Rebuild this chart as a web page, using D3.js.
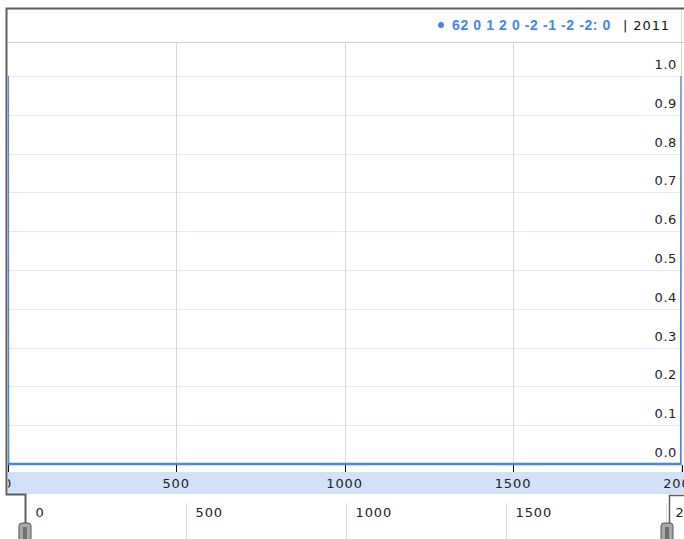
<!DOCTYPE html>
<html>
<head>
<meta charset="utf-8">
<script src="https://cdn.jsdelivr.net/npm/d3@7.9.0/dist/d3.min.js"></script>
<style>
  body { margin: 0; background: #fff; }
  text { font-family: "DejaVu Sans", Verdana, sans-serif; }
  text.legend-name { font-family: "Liberation Sans", Arial, sans-serif; font-weight: bold; }
</style>
</head>
<body>
<svg id="chart" width="684" height="539"></svg>
<script>
// series data
const seriesName = '62 0 1 2 0 -2 -1 -2 -2';
const xValues = [0, 1, 1999, 2000];
const yValues = [1, 0, 0, 1];
const legendValue = 0;
const legendDate = '2011';

const xTicks = [0, 500, 1000, 1500, 2000];
const yTicks = [0, 0.1, 0.2, 0.3, 0.4, 0.5, 0.6, 0.7, 0.8, 0.9, 1.0];

const svg = d3.select('#chart');

let x = d3.scaleLinear().domain([0, 2000]).range([7.7, 681.5]);
let y = d3.scaleLinear().domain([0, 1]).range([464, 76]);
let xr = d3.scaleLinear().domain([0, 2000]).range([25.5, 665.5]);

// header
svg.append('line')
  .attr('x1', 8).attr('x2', 684).attr('y1', 42.5).attr('y2', 42.5)
  .attr('stroke', '#cfcfcf');

// grid
svg.append('g').selectAll('line').data(yTicks).join('line')
  .attr('x1', 8).attr('x2', 681)
  .attr('y1', d => Math.round(y(d)) + 0.5).attr('y2', d => Math.round(y(d)) + 0.5)
  .attr('stroke', '#e4e8f6');

svg.append('g').selectAll('line').data(xTicks.slice(1, -1)).join('line')
  .attr('x1', d => Math.round(x(d)) + 0.5).attr('x2', d => Math.round(x(d)) + 0.5)
  .attr('y1', 43).attr('y2', 464)
  .attr('stroke', '#d9d9d9');

svg.append('line')
  .attr('x1', 681.5).attr('x2', 681.5).attr('y1', 9).attr('y2', 472)
  .attr('stroke', '#cfd6e4');

// series
svg.append('clipPath').attr('id', 'plot-clip')
  .append('rect').attr('x', 8).attr('y', 43).attr('width', 673.5).attr('height', 423);

let points = xValues.map((v, i) => [v, yValues[i]]);
let line = d3.line().x(d => x(d[0])).y(d => y(d[1]));

svg.append('path')
  .attr('d', line(points))
  .attr('clip-path', 'url(#plot-clip)')
  .attr('fill', 'none')
  .attr('stroke', '#4684ee')
  .attr('stroke-width', 2.5);

// y labels
svg.append('g').selectAll('text').data(yTicks).join('text')
  .attr('x', 677)
  .attr('y', d => y(d) - 7)
  .attr('text-anchor', 'end')
  .attr('font-size', 13)
  .attr('letter-spacing', 0.6)
  .attr('fill', '#222')
  .text(d => d3.format('.1f')(d));

// x axis band
svg.append('rect')
  .attr('x', 8).attr('y', 472).attr('width', 676).attr('height', 22)
  .attr('fill', '#d1e2f8');

svg.append('clipPath').attr('id', 'band-clip')
  .append('rect').attr('x', 8).attr('y', 464).attr('width', 676).attr('height', 31);

let xAxis = svg.append('g').attr('clip-path', 'url(#band-clip)');

xAxis.selectAll('line').data(xTicks).join('line')
  .attr('x1', d => Math.round(x(d)) + 0.5).attr('x2', d => Math.round(x(d)) + 0.5)
  .attr('y1', 465).attr('y2', 472)
  .attr('stroke', '#111');

xAxis.selectAll('text').data(xTicks).join('text')
  .attr('x', d => x(d))
  .attr('y', 488)
  .attr('text-anchor', 'middle')
  .attr('font-size', 13)
  .attr('letter-spacing', 0.9)
  .attr('fill', '#222')
  .text(d => d);

// range selector
svg.append('g').selectAll('line').data(xTicks.slice(1)).join('line')
  .attr('x1', d => Math.round(xr(d)) + 0.5).attr('x2', d => Math.round(xr(d)) + 0.5)
  .attr('y1', 503).attr('y2', 539)
  .attr('stroke', '#dcdcdc');

svg.append('g').selectAll('text').data(xTicks).join('text')
  .attr('x', d => xr(d) + 10)
  .attr('y', 517)
  .attr('font-size', 13)
  .attr('letter-spacing', 0.9)
  .attr('fill', '#222')
  .text(d => d);

// outer border with range handles
svg.append('path')
  .attr('d', 'M684,8.5 H6.5 V494.5 H25.5 V524')
  .attr('fill', 'none')
  .attr('stroke', '#5e5e5e')
  .attr('stroke-width', 2);

svg.append('path')
  .attr('d', 'M684,495.5 H669.5 V524')
  .attr('fill', 'none')
  .attr('stroke', '#5e5e5e')
  .attr('stroke-width', 1.5);

[25, 667].forEach(cx => {
  svg.append('rect')
    .attr('x', cx - 6).attr('y', 523).attr('width', 12).attr('height', 22)
    .attr('rx', 3)
    .attr('fill', '#a8a8a8')
    .attr('stroke', '#555');
  svg.append('rect')
    .attr('x', cx - 2).attr('y', 527).attr('width', 4).attr('height', 14)
    .attr('fill', '#707070');
});

// legend
let legend = svg.append('g');

legend.append('circle')
  .attr('cx', 441).attr('cy', 25).attr('r', 3)
  .attr('fill', '#4684ee');

legend.append('text')
  .attr('class', 'legend-name')
  .attr('x', 452).attr('y', 30)
  .attr('font-size', 14)
  .attr('letter-spacing', 0.6)
  .attr('fill', '#4684ee')
  .text(`${seriesName}: ${legendValue}`);

legend.append('text')
  .attr('x', 623).attr('y', 30)
  .attr('font-size', 13)
  .attr('letter-spacing', 0.9)
  .attr('fill', '#111')
  .text(`| ${legendDate}`);
</script>
</body>
</html>
